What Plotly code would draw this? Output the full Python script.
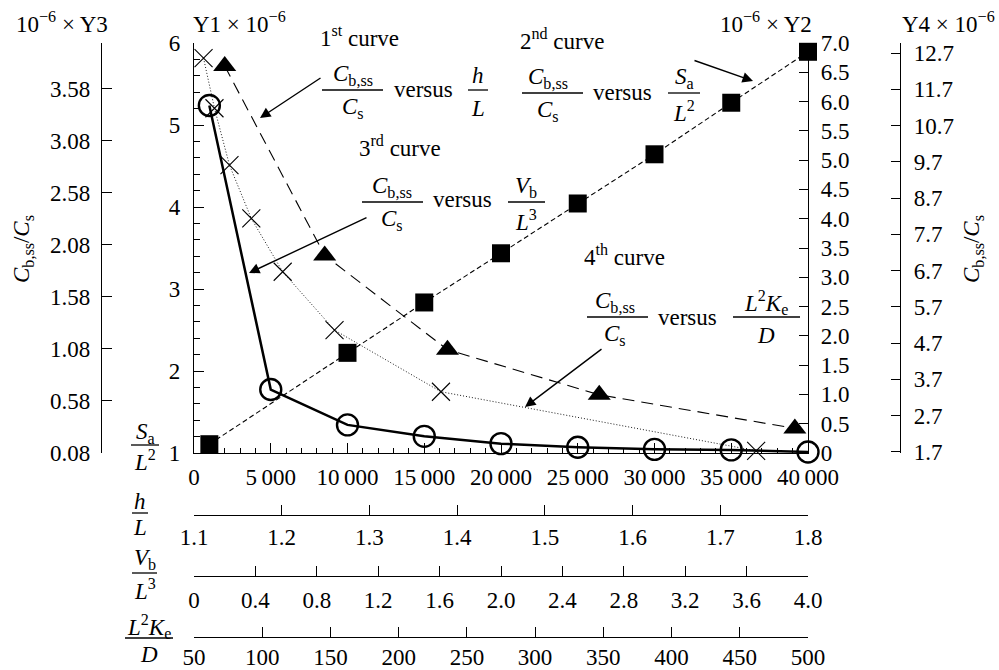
import plotly.graph_objects as go

W, H = 999, 670
FONT = "Liberation Serif, DejaVu Serif, serif"
FS = 23

# ---------------- data ----------------
# 1st curve: Cb,ss/Cs versus h/L  (read on Y1)
h_over_L = [1.135, 1.249, 1.389, 1.562, 1.785]
y1_ratio = [5.72, 3.41, 2.26, 1.71, 1.30]

# 2nd curve: Cb,ss/Cs versus Sa/L^2  (read on Y2)
sa_over_L2 = [1000, 10000, 15000, 20000, 25000, 30000, 35000, 40000]
y2_ratio = [0.15, 1.71, 2.57, 3.41, 4.26, 5.10, 5.98, 6.85]

# 3rd curve: Cb,ss/Cs versus Vb/L^3  (read on Y3)
vb_over_L3 = [0.1, 0.5, 1.0, 1.5, 2.0, 2.5, 3.0, 3.5, 4.0]
y3_ratio = [3.42, 0.69, 0.35, 0.24, 0.17, 0.135, 0.115, 0.11, 0.09]

# 4th curve: Cb,ss/Cs versus L^2 Ke / D  (read on Y4)
l2ke_over_D = [57, 65, 76, 92, 115, 153, 231, 462]
y4_ratio = [12.56, 11.18, 9.61, 8.14, 6.67, 5.06, 3.36, 1.73]

# ---------------- tick labels ----------------
y1_ticks = [1, 2, 3, 4, 5, 6]
y2_ticks = [i * 0.5 for i in range(15)]
y2_labels = ["0"] + [f"{v:.1f}" for v in y2_ticks[1:]]
y3_ticks = [0.08, 0.58, 1.08, 1.58, 2.08, 2.58, 3.08, 3.58]
y3_labels = [f"{v:.2f}" for v in y3_ticks]
y4_ticks = [1.7 + i for i in range(12)]
y4_labels = [f"{v:.1f}" for v in y4_ticks]
sa_ticks = [0, 5000, 10000, 15000, 20000, 25000, 30000, 35000, 40000]
sa_labels = ["0"] + [f"{v // 1000}\u2009000" for v in sa_ticks[1:]]
hl_ticks = [1.1, 1.2, 1.3, 1.4, 1.5, 1.6, 1.7, 1.8]
hl_labels = [f"{v:.1f}" for v in hl_ticks]
vb_ticks = [0, 0.4, 0.8, 1.2, 1.6, 2.0, 2.4, 2.8, 3.2, 3.6, 4.0]
vb_labels = ["0"] + [f"{v:.1f}" for v in vb_ticks[1:]]
ke_ticks = [50, 100, 150, 200, 250, 300, 350, 400, 450, 500]
ke_labels = [str(v) for v in ke_ticks]


def px(x):
    return x / W


def py(y):
    return 1 - y / H


# plot area in pixels
X0, X1, YT, YB = 194, 808, 43, 453

fig = go.Figure()

fig.add_trace(go.Scatter(
    x=h_over_L, y=y1_ratio, xaxis="x2", yaxis="y", mode="lines+markers",
    line=dict(color="black", width=1.1, dash="12px,7px"),
    marker=dict(symbol="triangle-up", size=20, color="black"),
    cliponaxis=False, showlegend=False))

fig.add_trace(go.Scatter(
    x=sa_over_L2, y=y2_ratio, xaxis="x", yaxis="y2", mode="lines+markers",
    line=dict(color="black", width=1.1, dash="5px,3px"),
    marker=dict(symbol="square", size=18, color="black"),
    cliponaxis=False, showlegend=False))

fig.add_trace(go.Scatter(
    x=l2ke_over_D, y=y4_ratio, xaxis="x4", yaxis="y4", mode="lines+markers",
    line=dict(color="black", width=0.9, dash="1px,2px"),
    marker=dict(symbol="x-thin-open", size=18, color="black",
                line=dict(color="black", width=1.1)),
    cliponaxis=False, showlegend=False))

fig.add_trace(go.Scatter(
    x=vb_over_L3, y=y3_ratio, xaxis="x3", yaxis="y3", mode="lines+markers",
    line=dict(color="black", width=2.5),
    marker=dict(symbol="circle-open", size=21, color="black",
                line=dict(color="black", width=2.4)),
    cliponaxis=False, showlegend=False))

tickfont = dict(family=FONT, size=FS, color="black")
common = dict(showline=True, linecolor="black", linewidth=1.2, ticks="inside",
              tickcolor="black", tickwidth=1.2, showgrid=False, zeroline=False,
              tickfont=tickfont, tickmode="array", autorange=False,
              automargin=False, fixedrange=True)

xdom = [px(X0), px(X1)]
ydom = [py(YB), py(YT)]

fig.update_layout(
    width=W, height=H, autosize=False,
    margin=dict(l=0, r=0, t=0, b=0, pad=0, autoexpand=False),
    paper_bgcolor="white", plot_bgcolor="rgba(0,0,0,0)",
    showlegend=False,
    xaxis=dict(domain=xdom, range=[0, 40000], tickvals=sa_ticks, ticktext=sa_labels,
               ticklen=10, anchor="y", ticklabelstandoff=3,
               minor=dict(dtick=1000, ticks="inside", ticklen=5, tickcolor="black",
                          tickwidth=1.2, showgrid=False),
               **common),
    xaxis2=dict(domain=xdom, range=[1.1, 1.8], tickvals=hl_ticks, ticktext=hl_labels,
                ticklen=10, anchor="free", position=py(515), overlaying="x",
                side="bottom", ticklabelstandoff=1, **common),
    xaxis3=dict(domain=xdom, range=[0, 4.0], tickvals=vb_ticks, ticktext=vb_labels,
                ticklen=10, anchor="free", position=py(576), overlaying="x",
                side="bottom", ticklabelstandoff=3, **common),
    xaxis4=dict(domain=xdom, range=[50, 500], tickvals=ke_ticks, ticktext=ke_labels,
                ticklen=10, anchor="free", position=py(637), overlaying="x",
                side="bottom", ticklabelstandoff=-1, **common),
    yaxis=dict(domain=ydom, range=[1, 6], tickvals=y1_ticks, ticklen=10, anchor="x",
               side="left", ticklabelstandoff=8,
               minor=dict(dtick=0.2, ticks="inside", ticklen=6, tickcolor="black",
                          tickwidth=1.2, showgrid=False),
               **common),
    yaxis2=dict(domain=ydom, range=[0, 7], tickvals=y2_ticks, ticktext=y2_labels,
                ticklen=9, anchor="x", side="right", overlaying="y",
                ticklabelstandoff=7, **common),
    yaxis3=dict(domain=ydom, range=[0.08, 4.02], tickvals=y3_ticks, ticktext=y3_labels,
                ticklen=10, anchor="free", position=px(101), side="left",
                overlaying="y", ticklabelstandoff=6, **common),
    yaxis4=dict(domain=ydom, range=[1.67, 12.98], tickvals=y4_ticks, ticktext=y4_labels,
                ticklen=9, anchor="free", position=px(900), side="right",
                overlaying="y", ticklabelstandoff=8, **common),
)

annotations = []
shapes = []


def text(x, y, s, size=FS, angle=0):
    annotations.append(dict(
        x=px(x), y=py(y), xref="paper", yref="paper", text=s, showarrow=False,
        xanchor="center", yanchor="middle", textangle=angle,
        font=dict(family=FONT, size=size, color="black")))


def bar(x0, x1, y):
    shapes.append(dict(type="line", xref="paper", yref="paper",
                       x0=px(x0), x1=px(x1), y0=py(y), y1=py(y),
                       line=dict(color="black", width=1.3)))


def frac(cx, ybar, x0, x1, num, den, dnum=15, dden=18):
    text(cx, ybar - dnum, num)
    bar(x0, x1, ybar)
    text(cx, ybar + dden, den)


def arrow(tipx, tipy, tailx, taily):
    annotations.append(dict(
        x=px(tipx), y=py(tipy), xref="paper", yref="paper", text="",
        showarrow=True, ax=tailx - tipx, ay=taily - tipy,
        arrowhead=2, arrowsize=1.5, arrowwidth=1.4, arrowcolor="black"))


CB = "<i>C</i><sub>b,ss</sub>"
CS = "<i>C</i><sub>s</sub>"

# axis headers
text(62, 22, "10<sup>\u22126</sup> \u00d7 Y3")
text(239, 22, "Y1 \u00d7 10<sup>\u22126</sup>")
text(766, 22, "10<sup>\u22126</sup> \u00d7 Y2")
text(948, 22, "Y4 \u00d7 10<sup>\u22126</sup>")

# vertical ratio titles
text(23, 249, CB + "/" + CS, angle=-90)
text(973, 249, CB + "/" + CS, angle=-90)

# curve captions
text(359, 36, "1<sup>st</sup> curve")
text(562, 40, "2<sup>nd</sup> curve")
text(400, 146, "3<sup>rd</sup> curve")
text(624, 255, "4<sup>th</sup> curve")

# 1st caption: Cb,ss/Cs versus h/L
frac(353, 90, 322, 383, CB, CS)
text(423, 90, "versus")
frac(478, 90, 468, 488, "<i>h</i>", "<i>L</i>")

# 2nd caption: versus Sa/L^2
frac(548, 93, 522, 583, CB, CS)
text(622, 93, "versus")
frac(684, 93, 668, 700, "<i>S</i><sub>a</sub>", "<i>L</i><sup>2</sup>")

# 3rd caption: versus Vb/L^3
frac(392, 202, 362, 423, CB, CS)
text(462, 200, "versus")
frac(526, 202, 508, 545, "<i>V</i><sub>b</sub>", "<i>L</i><sup>3</sup>")

# 4th caption: versus L^2 Ke / D
frac(615, 317, 587, 648, CB, CS)
text(687, 317, "versus")
frac(766, 317, 733, 800, "<i>L</i><sup>2</sup><i>K</i><sub>e</sub>", "<i>D</i>")

# captions for the stacked abscissae
frac(145, 445, 131, 159, "<i>S</i><sub>a</sub>", "<i>L</i><sup>2</sup>", dnum=12, dden=15)
frac(140, 513, 132, 148, "<i>h</i>", "<i>L</i>", dnum=12, dden=14)
frac(145, 573, 132, 157, "<i>V</i><sub>b</sub>", "<i>L</i><sup>3</sup>", dnum=14, dden=16)
frac(149, 638, 125, 173, "<i>L</i><sup>2</sup><i>K</i><sub>e</sub>", "<i>D</i>", dnum=12, dden=16)

# pointers from the captions to their curves
arrow(260, 118, 322, 77)
arrow(753, 81, 693, 60)
arrow(249, 273, 368, 217)
arrow(525, 407, 603, 348)

fig.update_layout(annotations=annotations, shapes=shapes)

fig.write_html("out.html")
